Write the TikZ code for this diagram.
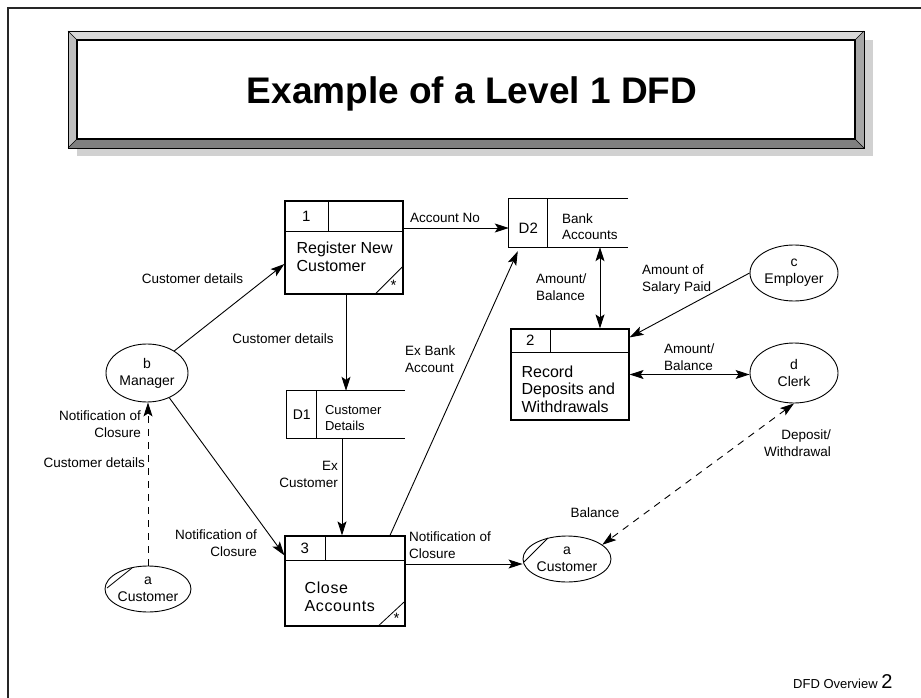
\documentclass[tikz,border=0pt]{standalone}
\usepackage{fontspec}
\setmainfont{Liberation Sans}
\usetikzlibrary{arrows.meta,shapes.geometric,calc}

\begin{document}
\begin{tikzpicture}[x=1pt,y=-1pt,
  flow/.style={line width=0.9pt, -{Stealth[length=14pt,width=9pt,inset=3pt]}},
  both/.style={line width=0.9pt, {Stealth[length=14pt,width=9pt,inset=3pt]}-{Stealth[length=14pt,width=9pt,inset=3pt]}},
  dashflow/.style={dash pattern=on 7pt off 6pt},
  proc/.style={draw, line width=1.2pt, rectangle, inner sep=0pt},
  part/.style={line width=1.2pt},
  store/.style={rectangle, inner sep=0pt},
  ent/.style={draw, ellipse, line width=0.9pt, inner sep=0pt, align=center,
              font=\fontsize{14}{17}\selectfont},
  lbl/.style={font=\fontsize{13.5}{17}\selectfont, inner sep=0pt},
  ptext/.style={font=\fontsize{16}{18}\selectfont, inner sep=0pt, anchor=west, align=left},
  pnum/.style={font=\fontsize{15}{17}\selectfont, inner sep=0pt},
  stext/.style={font=\fontsize{13}{15.5}\selectfont, inner sep=0pt, anchor=west, align=left},
  starmark/.style={font=\fontsize{15}{15}\selectfont, inner sep=0pt},
]
\useasboundingbox (0,0) rectangle (921,698);

% page frame
\draw[line width=2pt, black!85] (8,698) -- (8,8) -- (921,8);

% title plate with bevel and drop shadow
\fill[black!18] (77,40) rectangle (873,156);
\fill[black!15] (68,31) -- (864,31) -- (855,40) -- (77,40) -- cycle;
\fill[black!25] (68,31) -- (77,40) -- (77,139) -- (68,148) -- cycle;
\fill[black!35] (864,31) -- (864,148) -- (855,139) -- (855,40) -- cycle;
\fill[black!50] (68,148) -- (77,139) -- (855,139) -- (864,148) -- cycle;
\draw[line width=0.8pt] (68,31) rectangle (864,148);
\draw[line width=0.5pt] (68,31) -- (77,40) (864,31) -- (855,40)
                        (68,148) -- (77,139) (864,148) -- (855,139);
\node[draw, line width=2.5pt, fill=white, minimum width=778pt, minimum height=99pt,
      inner sep=0pt] (title) at (466,89.5) {};
\node[font=\fontsize{37}{40}\selectfont\bfseries, anchor=base, inner sep=0pt]
      (titletext) at (472,104) {Example of a Level 1 DFD};

% process 1
\node[proc, minimum width=118pt, minimum height=93pt] (p1) at (344,247.5) {};
\draw[part] ([yshift=-31pt]p1.north west) -- ([yshift=-31pt]p1.north east);
\draw[part] ([xshift=44pt]p1.north west) -- ([xshift=44pt,yshift=-31pt]p1.north west);
\draw[line width=0.8pt] ([xshift=-29pt]p1.south east) -- ([yshift=29pt]p1.south east);
\node[starmark] (p1star) at ([xshift=-10pt,yshift=9pt]p1.south east) {*};
\node[pnum] (p1num) at ([xshift=22pt,yshift=-15.5pt]p1.north west) {1};
\node[ptext] (p1txt) at ([xshift=12pt,yshift=-56pt]p1.north west) {Register New\\Customer};

% process 2
\node[proc, minimum width=118pt, minimum height=91pt] (p2) at (570,374.5) {};
\draw[part] ([yshift=-24pt]p2.north west) -- ([yshift=-24pt]p2.north east);
\draw[part] ([xshift=40pt]p2.north west) -- ([xshift=40pt,yshift=-24pt]p2.north west);
\node[pnum] (p2num) at ([xshift=20pt,yshift=-12pt]p2.north west) {2};
\node[ptext, font=\fontsize{16}{17.5}\selectfont] (p2txt) at ([xshift=11pt,yshift=-60.5pt]p2.north west)
      {Record\\Deposits and\\Withdrawals};

% process 3
\node[proc, minimum width=120pt, minimum height=90pt] (p3) at (345,581) {};
\draw[part] ([yshift=-25pt]p3.north west) -- ([yshift=-25pt]p3.north east);
\draw[part] ([xshift=41pt]p3.north west) -- ([xshift=41pt,yshift=-25pt]p3.north west);
\draw[line width=0.8pt] ([xshift=-28pt]p3.south east) -- ([yshift=26pt]p3.south east);
\node[starmark] (p3star) at ([xshift=-9pt,yshift=8pt]p3.south east) {*};
\node[pnum] (p3num) at ([xshift=20.5pt,yshift=-12.5pt]p3.north west) {3};
\node[ptext, font=\addfontfeature{LetterSpace=4}\fontsize{16}{18}\selectfont] (p3txt)
      at ([xshift=20pt,yshift=-61pt]p3.north west) {Close\\Accounts};

% data store D1
\node[store, minimum width=118pt, minimum height=47pt] (d1) at (346,414.5) {};
\draw[part] (d1.north east) -- (d1.north west) -- (d1.south west) -- (d1.south east);
\draw[part] ([xshift=30pt]d1.north west) -- ([xshift=30pt]d1.south west);
\node[pnum, font=\fontsize{14}{16}\selectfont] (d1id) at ([xshift=15pt]d1.west) {D1};
\node[stext] (d1txt) at ([xshift=38pt,yshift=-3.5pt]d1.west) {Customer\\Details};

% data store D2
\node[store, minimum width=119pt, minimum height=48pt] (d2) at (568.5,223) {};
\draw[part] (d2.north east) -- (d2.north west) -- (d2.south west) -- (d2.south east);
\draw[part] ([xshift=39pt]d2.north west) -- ([xshift=39pt]d2.south west);
\node[pnum, font=\fontsize{15}{17}\selectfont] (d2id) at ([xshift=19.5pt,yshift=-5pt]d2.west) {D2};
\node[stext, font=\fontsize{13.5}{16}\selectfont] (d2txt) at ([xshift=53pt,yshift=-4pt]d2.west) {Bank\\Accounts};

% external entities
\node[ent, minimum width=82pt, minimum height=58pt] (mgr) at (147,373) {b\\Manager};
\node[ent, minimum width=86pt, minimum height=46pt] (custl) at (148,589) {a\\Customer};
\draw[line width=0.8pt] ($(custl.center)+(-41,-1)$) -- ($(custl.center)+(-16,-21)$);
\node[ent, minimum width=88pt, minimum height=46pt] (custr) at (567,559) {a\\Customer};
\draw[line width=0.8pt] ($(custr.center)+(-43,3)$) -- ($(custr.center)+(-19,-21)$);
\node[ent, minimum width=88pt, minimum height=56pt] (emp) at (794,273) {c\\Employer};
\node[ent, minimum width=88pt, minimum height=60pt] (clerk) at (794,373) {d\\Clerk};

% data flows
\draw[flow] (mgr.39) -- ([yshift=-16.5pt]p1.west);
\draw[flow] (p1.south -| d1.north) -- (d1.north);
\draw[flow] ([yshift=19.5pt]p1.east) coordinate (acctno) -- (acctno -| d2.west);
\draw[both] ([xshift=31.5pt]d2.south) coordinate (amtbal) -- (amtbal |- p2.north);
\draw[flow] (emp.west) -- ([yshift=-9pt]p2.north east);
\draw[both] (p2.east) -- (clerk.west |- p2.east);
\draw[both, dashflow] (clerk.south) -- (custr.22);
\draw[flow] ([yshift=17pt]p3.east) coordinate (notif) -- (notif -| custr.west);
\draw[flow] ([xshift=45pt]p3.north) -- ([xshift=9pt,yshift=-4pt]d2.south west);
\draw[flow] ([xshift=-4pt]d1.south) coordinate (excust) -- (excust |- p3.north);
\draw[flow] (mgr.-48) -- ([yshift=-20pt]p3.north west);
\draw[flow, dashflow] (custl.north) -- (custl.north |- mgr.south);

% flow labels
\node[lbl] (l1) at (192.5,279) {Customer details};
\node[lbl] (l2) at (283,339) {Customer details};
\node[lbl] (l3) at (445,218) {Account No};
\node[lbl, anchor=west, align=left] (l4) at (405,359.5) {Ex Bank\\Account};
\node[lbl, anchor=west, align=left] (l5) at (536,287) {Amount/\\Balance};
\node[lbl, anchor=west, align=left] (l6) at (642,279.5) {Amount of\\Salary Paid};
\node[lbl, anchor=west, align=left] (l7) at (664,357.5) {Amount/\\Balance};
\node[lbl, anchor=east, align=right] (l8) at (831,443.5) {Deposit/\\Withdrawal};
\node[lbl] (l9) at (595,513) {Balance};
\node[lbl, anchor=west, align=left] (l10) at (409,545.5) {Notification of\\Closure};
\node[lbl, anchor=east, align=right] (l11) at (257,543.5) {Notification of\\Closure};
\node[lbl, anchor=east, align=right] (l12) at (338,474.5) {Ex\\Customer};
\node[lbl, anchor=east, align=right] (l13) at (141,424.5) {Notification of\\Closure};
\node[lbl, anchor=east] (l14) at (145,463) {Customer details};

% footer
\node[anchor=base west, inner sep=0pt, font=\fontsize{13}{15}\selectfont] (footer) at (793,688)
      {DFD Overview {\fontsize{20}{22}\selectfont 2}};
\end{tikzpicture}
\end{document}
